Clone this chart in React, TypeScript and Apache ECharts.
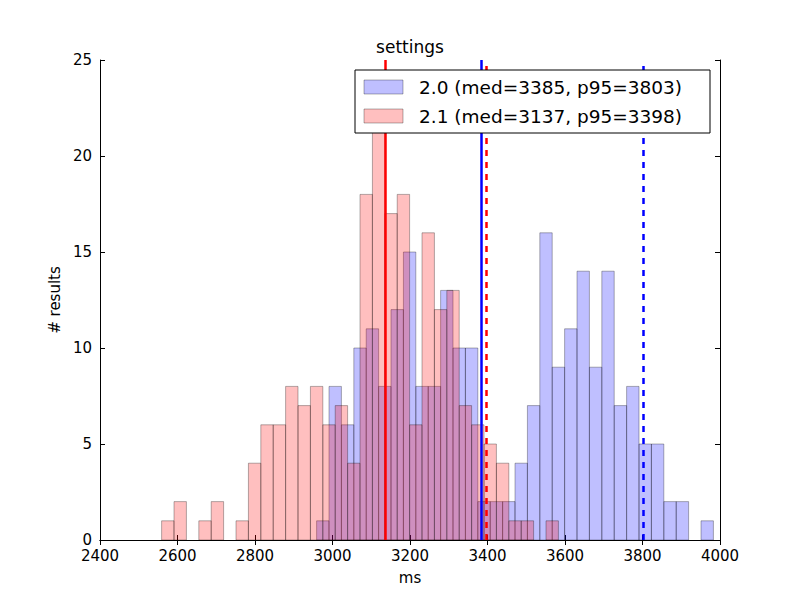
import { useEffect, useRef } from "react";
import * as echarts from "echarts";

const binWidth = 32;
const blueStart = 2959;
const redStart = 2559;
const blueCounts = [1, 8, 6, 10, 11, 8, 12, 15, 8, 8, 13, 10, 10, 2, 2, 2, 4, 7, 16, 9, 11, 14, 9, 14, 7, 8, 5, 5, 2, 2, 0, 1];
const redCounts = [1, 2, 0, 1, 2, 0, 1, 4, 6, 6, 8, 7, 8, 6, 7, 4, 18, 22, 17, 18, 6, 16, 12, 13, 7, 6, 5, 4, 1, 1, 0, 1];
const blueStats = { med: 3385, p95: 3803 };
const redStats = { med: 3137, p95: 3398 };
const legendLabels = ["2.0 (med=3385, p95=3803)", "2.1 (med=3137, p95=3398)"];

const FONT = "DejaVu Sans";

function histData(start: number, counts: number[]) {
  return counts.map((c, i) => [start + i * binWidth, start + (i + 1) * binWidth, c]);
}

function histSeries(start: number, counts: number[], fill: string) {
  return {
    type: "custom",
    xAxisIndex: 0,
    yAxisIndex: 0,
    data: histData(start, counts).filter((d) => d[2] > 0),
    encode: { x: [0, 1], y: 2 },
    renderItem: (_params: any, api: any) => {
      const p0 = api.coord([api.value(0), api.value(2)]);
      const p1 = api.coord([api.value(1), 0]);
      return {
        type: "rect",
        shape: { x: p0[0], y: p0[1], width: p1[0] - p0[0], height: p1[1] - p0[1] },
        style: { fill, stroke: "rgba(0,0,0,0.3)", lineWidth: 1 },
      };
    },
  };
}

export default function App() {
  const ref = useRef<HTMLDivElement | null>(null);

  useEffect(() => {
    if (!ref.current) return;
    const chart = echarts.init(ref.current, undefined, { renderer: "svg" });
    const tickStyle = { inside: true, length: 5, lineStyle: { color: "#000" } };
    const vline = (x: number, color: string, type: any) => ({
      xAxis: x,
      lineStyle: { color, width: 2.5, type },
    });
    chart.setOption({
      animation: false,
      textStyle: { fontFamily: FONT },
      grid: { left: 100, right: 80, top: 60, bottom: 60 },
      xAxis: [
        {
          type: "value",
          min: 2400,
          max: 4000,
          interval: 200,
          name: "ms",
          nameLocation: "middle",
          nameGap: 30,
          nameTextStyle: { fontFamily: FONT, fontSize: 15, color: "#000" },
          axisLine: { lineStyle: { color: "#000" } },
          axisTick: tickStyle,
          axisLabel: { color: "#000", fontSize: 15, fontFamily: FONT, margin: 8, formatter: (v: number) => String(v) },
          splitLine: { show: false },
        },
        {
          type: "value",
          position: "top",
          min: 2400,
          max: 4000,
          interval: 200,
          axisLine: { lineStyle: { color: "#000" } },
          axisTick: tickStyle,
          axisLabel: { show: false },
          splitLine: { show: false },
        },
      ],
      yAxis: [
        {
          type: "value",
          min: 0,
          max: 25,
          interval: 5,
          name: "# results",
          nameLocation: "middle",
          nameGap: 38,
          nameTextStyle: { fontFamily: FONT, fontSize: 15, color: "#000" },
          axisLine: { show: true, lineStyle: { color: "#000" } },
          axisTick: { show: true, ...tickStyle },
          axisLabel: { color: "#000", fontSize: 15, fontFamily: FONT, margin: 8 },
          splitLine: { show: false },
        },
        {
          type: "value",
          position: "right",
          min: 0,
          max: 25,
          interval: 5,
          axisLine: { show: true, lineStyle: { color: "#000" } },
          axisTick: { show: true, ...tickStyle },
          axisLabel: { show: false },
          splitLine: { show: false },
        },
      ],
      series: [
        histSeries(blueStart, blueCounts, "rgba(0,0,255,0.25)"),
        histSeries(redStart, redCounts, "rgba(255,0,0,0.25)"),
        {
          type: "line",
          data: [],
          markLine: {
            symbol: "none",
            silent: true,
            label: { show: false },
            data: [
              vline(redStats.med, "#ff0000", "solid"),
              vline(redStats.p95, "#ff0000", [6, 6]),
              vline(blueStats.med, "#0000ff", "solid"),
              vline(blueStats.p95, "#0000ff", [6, 6]),
            ],
          },
        },
      ],
      graphic: [
        {
          type: "text",
          x: 410,
          y: 47,
          z: 100,
          style: { text: "settings", fontFamily: FONT, fontSize: 17, fill: "#000", align: "center", verticalAlign: "middle" },
        },
        {
          type: "group",
          x: 355,
          y: 70,
          z: 100,
          children: [
            { type: "rect", z: 100, shape: { x: 0, y: 0, width: 355, height: 63 }, style: { fill: "#fff", stroke: "#000", lineWidth: 1 } },
            { type: "rect", z: 101, shape: { x: 9, y: 10, width: 39, height: 14 }, style: { fill: "rgba(0,0,255,0.25)", stroke: "rgba(0,0,0,0.3)" } },
            { type: "rect", z: 101, shape: { x: 9, y: 39, width: 39, height: 14 }, style: { fill: "rgba(255,0,0,0.25)", stroke: "rgba(0,0,0,0.3)" } },
            { type: "text", z: 101, x: 64, y: 17, style: { text: legendLabels[0], fontFamily: FONT, fontSize: 18.5, fill: "#000", verticalAlign: "middle" } },
            { type: "text", z: 101, x: 64, y: 46, style: { text: legendLabels[1], fontFamily: FONT, fontSize: 18.5, fill: "#000", verticalAlign: "middle" } },
          ],
        },
      ],
    });
    return () => chart.dispose();
  }, []);

  return <div ref={ref} style={{ width: 800, height: 600, margin: -8 }} />;
}
